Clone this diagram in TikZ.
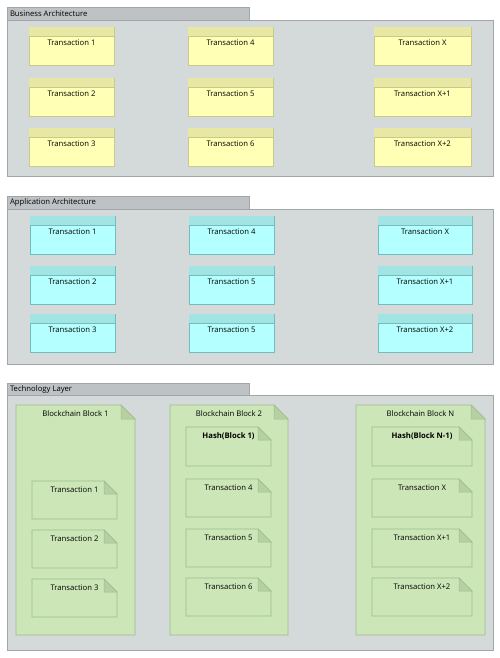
\documentclass[tikz,border=0pt]{standalone}
\usepackage{fontspec}
\setmainfont{Open Sans}
\usetikzlibrary{calc}
\definecolor{contfill}{HTML}{D4D9DA}
\definecolor{contline}{HTML}{A3A6A8}
\definecolor{tabfill}{HTML}{BEC2C4}
\definecolor{yfill}{HTML}{FFFFB5}
\definecolor{yhead}{HTML}{E8E8A4}
\definecolor{yline}{HTML}{C9C98A}
\definecolor{cfill}{HTML}{B4FFFF}
\definecolor{chead}{HTML}{A2E3E3}
\definecolor{cline}{HTML}{74BDBD}
\definecolor{gfill}{HTML}{CCE6B7}
\definecolor{gline}{HTML}{9EBD8C}
\definecolor{gfold}{HTML}{B6D0A2}
\tikzset{
  every node/.style={inner sep=0pt, outer sep=0pt},
  lbl/.style={font=\fontsize{7.7}{9}\selectfont, text=black},
  blbl/.style={font=\fontsize{7.7}{9}\selectfont\bfseries, text=black},
  cont/.style={draw=contline, fill=contfill, line width=0.8pt, rectangle},
  tabbox/.style={draw=contline, fill=tabfill, line width=0.8pt, rectangle},
  ybox/.style={draw=yline, fill=yfill, line width=0.8pt, rectangle},
  cbox/.style={draw=cline, fill=cfill, line width=0.8pt, rectangle},
  shapebox/.style={rectangle, draw=none},
}
\newcommand\trbox[7]{%
  \node[#6box, anchor=north west, minimum width=#4pt, minimum height=#5pt] (#1) at (#2,#3) {};
  \fill[#6head] ([xshift=0.4pt,yshift=-0.4pt]#1.north west) rectangle ([xshift=-0.4pt,yshift=-9pt]#1.north east);
  \draw[#6line, line width=0.8pt] ([yshift=-9pt]#1.north west) -- ([yshift=-9pt]#1.north east);
  \node[lbl] (#1l) at ([yshift=-16pt]#1.north) {#7};
}
\newcommand\trnote[8]{%
  \node[shapebox, anchor=north west, minimum width=#4pt, minimum height=#5pt] (#1) at (#2,#3) {};
  \filldraw[fill=gfill, draw=gline, line width=0.8pt] (#1.north west) -- ([xshift=-#6pt]#1.north east) -- ([yshift=-#6pt]#1.north east) -- (#1.south east) -- (#1.south west) -- cycle;
  \filldraw[fill=gfold, draw=gline, line width=0.5pt] ([xshift=-#6pt]#1.north east) -- ([xshift=-#6pt,yshift=-#6pt]#1.north east) -- ([yshift=-#6pt]#1.north east) -- cycle;
  \node[#8] (#1l) at ([yshift=-9pt]#1.north) {#7};
}
\newcommand\trlayer[6]{% name, tab y, cont y, cont h, tab h, text
  \node[cont, anchor=north west, minimum width=486pt, minimum height=#4pt] (#1c) at (7,#3) {};
  \node[tabbox, anchor=north west, minimum width=242pt, minimum height=#5pt] (#1t) at (7,#2) {};
  \node[lbl, anchor=west] (#1tl) at ([xshift=3pt]#1t.west) {#6};
}
\begin{document}
\begin{tikzpicture}[x=1pt, y=-1pt]
\useasboundingbox (0,0) rectangle (500,658);
\fill[white] (0,0) rectangle (500,658);
% Business
\trlayer{biz}{7}{20}{156}{13}{Business Architecture}
\trbox{ba1}{29}{27}{85}{38}{y}{Transaction 1}
\trbox{ba2}{29}{78}{85}{38}{y}{Transaction 2}
\trbox{ba3}{29}{128}{85}{38}{y}{Transaction 3}
\trbox{ba4}{188}{27}{85}{38}{y}{Transaction 4}
\trbox{ba5}{188}{78}{85}{38}{y}{Transaction 5}
\trbox{ba6}{188}{128}{85}{38}{y}{Transaction 6}
\trbox{bax}{374}{27}{97}{38}{y}{Transaction X}
\trbox{bax1}{374}{78}{97}{38}{y}{Transaction X+1}
\trbox{bax2}{374}{128}{97}{38}{y}{Transaction X+2}
% Application
\trlayer{app}{196}{209}{155}{13}{Application Architecture}
\trbox{aa1}{30}{216}{85}{38}{c}{Transaction 1}
\trbox{aa2}{30}{266}{85}{38}{c}{Transaction 2}
\trbox{aa3}{30}{314}{85}{38}{c}{Transaction 3}
\trbox{aa4}{189}{216}{85}{38}{c}{Transaction 4}
\trbox{aa5}{189}{266}{85}{38}{c}{Transaction 5}
\trbox{aa6}{189}{314}{85}{38}{c}{Transaction 5}
\trbox{aax}{378}{216}{94}{38}{c}{Transaction X}
\trbox{aax1}{378}{266}{94}{38}{c}{Transaction X+1}
\trbox{aax2}{378}{314}{94}{38}{c}{Transaction X+2}
% Technology
\trlayer{tech}{383}{395}{255}{12}{Technology Layer}
\trnote{blk1}{16}{405}{119}{230}{14}{Blockchain Block 1}{lbl}
\trnote{blk2}{170}{405}{118}{230}{14}{Blockchain Block 2}{lbl}
\trnote{blkn}{356}{405}{129}{230}{14}{Blockchain Block N}{lbl}
\trnote{t1}{32}{481}{85}{38}{13}{Transaction 1}{lbl}
\trnote{t2}{32}{530}{85}{38}{13}{Transaction 2}{lbl}
\trnote{t3}{32}{579}{85}{38}{13}{Transaction 3}{lbl}
\trnote{h1}{186}{427}{85}{39}{13}{Hash(Block 1)}{blbl}
\trnote{t4}{186}{479}{85}{38}{13}{Transaction 4}{lbl}
\trnote{t5}{186}{529}{85}{38}{13}{Transaction 5}{lbl}
\trnote{t6}{186}{578}{85}{38}{13}{Transaction 6}{lbl}
\trnote{hn}{372}{427}{100}{39}{13}{Hash(Block N-1)}{blbl}
\trnote{tx}{372}{479}{100}{38}{13}{Transaction X}{lbl}
\trnote{tx1}{372}{529}{100}{38}{13}{Transaction X+1}{lbl}
\trnote{tx2}{372}{578}{100}{38}{13}{Transaction X+2}{lbl}
\end{tikzpicture}
\end{document}
